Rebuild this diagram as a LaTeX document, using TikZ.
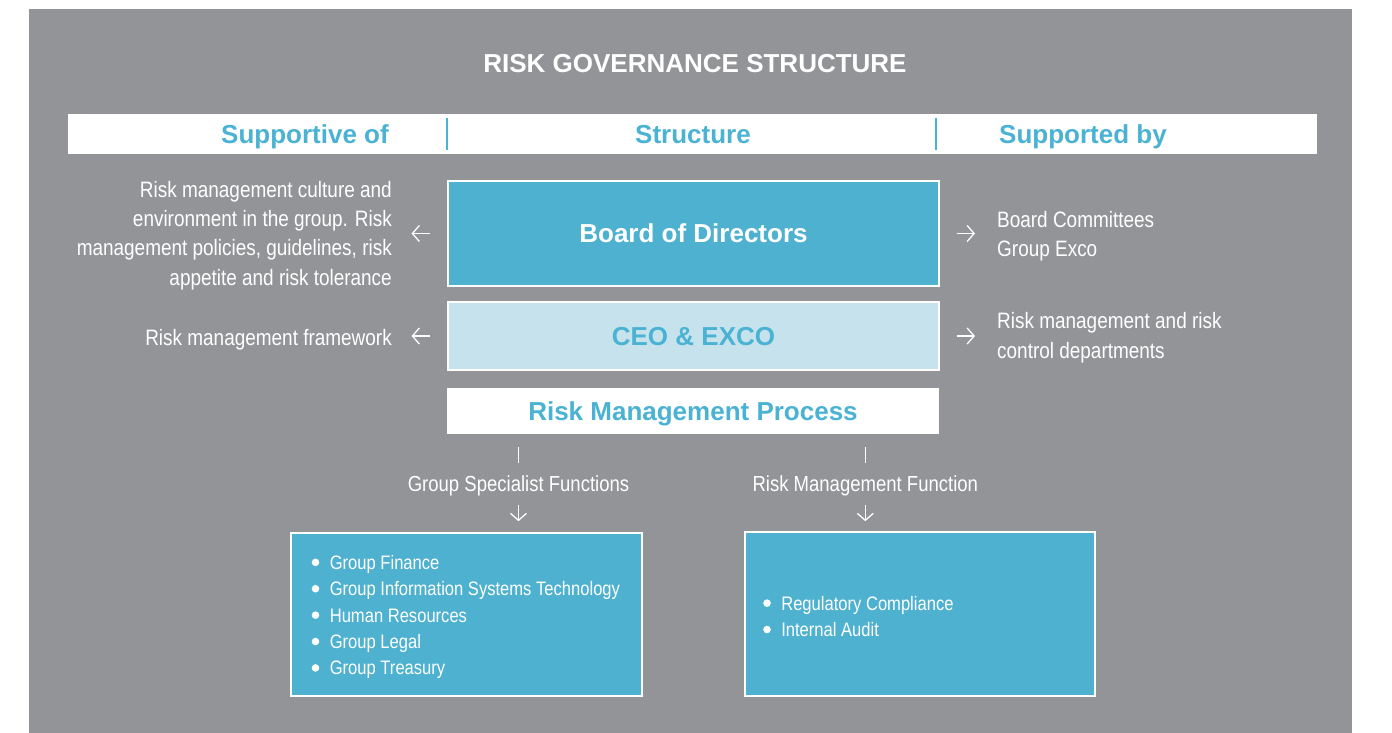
\documentclass[tikz,border=0pt]{standalone}
\usepackage{fontspec}
\setmainfont{Liberation Sans}
\newfontfamily\cond[FakeStretch=0.85]{Liberation Sans}
\usetikzlibrary{arrows.meta}
\definecolor{bg}{HTML}{939498}
\definecolor{cyan1}{HTML}{4EB1D0}
\definecolor{pale}{HTML}{C6E2EC}
\definecolor{hblue}{HTML}{4AB2D3}
\newcommand\bul{\tikz[baseline=-7pt]\fill[white] (0,0) circle (3.8pt);\hspace{10.5pt}}
\begin{document}
\begin{tikzpicture}[x=1pt,y=-1pt,
  box/.style={rectangle, line width=2pt, draw=white, inner sep=0pt, minimum width=491pt, text height=18.6pt, text depth=0pt, font=\bfseries\fontsize{26}{30}\selectfont},
  side/.style={font=\cond\fontsize{22.3}{29.3}\selectfont, text=white, inner sep=0pt},
  func/.style={font=\cond\fontsize{21.8}{26}\selectfont, text=white, inner sep=0pt},
  listtxt/.style={font=\cond\fontsize{19.5}{26.4}\selectfont, text=white, inner sep=0pt, align=left},
  lbox/.style={rectangle, fill=cyan1, draw=white, line width=2pt, minimum width=350.7pt, minimum height=163.6pt, inner sep=0pt},
  hd/.style={font=\bfseries\fontsize{26}{30}\selectfont, text=hblue, inner sep=0pt},
  arr/.style={draw=white, line width=1.3pt, -{Straight Barb[length=7pt,width=16pt]}},
  wl/.style={draw=white, line width=1.3pt},
]
\useasboundingbox (0,0) rectangle (1392,733);
\fill[white] (0,0) rectangle (1392,733);
\fill[bg] (28.7,9) rectangle (1351.7,733);

\node[font=\bfseries\fontsize{26}{30}\selectfont, text=white, anchor=base, inner sep=0pt] (title) at (695,72.5) {RISK GOVERNANCE STRUCTURE};

\node[fill=white, minimum width=1248.4pt, minimum height=39.7pt, inner sep=0pt] (hdr) at (692.5,133.9) {};
\node[hd, anchor=base] (h1) at (305,143) {Supportive of};
\node[hd, anchor=base] (h2) at (693,143) {Structure};
\node[hd, anchor=base] (h3) at (1083,143) {Supported by};
\draw[hblue, line width=1.5pt] (447,118) -- (447,150);
\draw[hblue, line width=1.5pt] (936,118) -- (936,150);

\node[box, fill=cyan1, text=white, minimum height=105pt] (board) at (693.5,233.5) {Board of Directors};
\node[box, fill=pale, text=hblue, minimum height=68pt] (ceo) at (693.5,336) {CEO \& EXCO};
\node[box, fill=white, draw=none, minimum width=492pt, minimum height=46pt, text=hblue] (rmp) at (693,411) {Risk Management Process};

\node[side, align=right, anchor=east] (lt1) at (392,235.3) {Risk management culture and\\environment in the group. Risk\\management policies, guidelines, risk\\appetite and risk tolerance};
\node[side, anchor=base east] (lt2) at (392,345) {Risk management framework};
\node[side, align=left, anchor=west] (rt1) at (997,236) {Board Committees\\Group Exco};
\node[side, align=left, anchor=west] (rt2) at (997,337.7) {Risk management and risk\\control departments};

\draw[arr] ([xshift=-17pt]board.west) -- ([xshift=-35.5pt]board.west);
\draw[arr] ([xshift=-17pt]ceo.west) -- ([xshift=-35.5pt]ceo.west);
\draw[arr] ([xshift=16.5pt]board.east) -- ([xshift=35pt]board.east);
\draw[arr] ([xshift=16.5pt]ceo.east) -- ([xshift=35pt]ceo.east);

\node[func, anchor=base] (gsf) at (518.5,491.7) {Group Specialist Functions};
\node[func, anchor=base] (rmf) at (865.3,491.7) {Risk Management Function};
\draw[wl] ([yshift=28.4pt]gsf.base) -- ([yshift=45pt]gsf.base);
\draw[wl] ([yshift=28.4pt]rmf.base) -- ([yshift=45pt]rmf.base);
\draw[arr] ([yshift=-13pt]gsf.base) -- ([yshift=-29.5pt]gsf.base);
\draw[arr] ([yshift=-13pt]rmf.base) -- ([yshift=-29.5pt]rmf.base);

\node[lbox] (gsbox) at (466.3,614.5) {};
\node[lbox] (rmbox) at (920,614.2) {};
\node[listtxt, anchor=north west] (gslist) at (311.5,555) {\bul Group Finance\\\bul Group Information Systems Technology\\\bul Human Resources\\\bul Group Legal\\\bul Group Treasury};
\node[listtxt, anchor=north west] (rmlist) at (763,595.8) {\bul Regulatory Compliance\\\bul Internal Audit};
\end{tikzpicture}
\end{document}
